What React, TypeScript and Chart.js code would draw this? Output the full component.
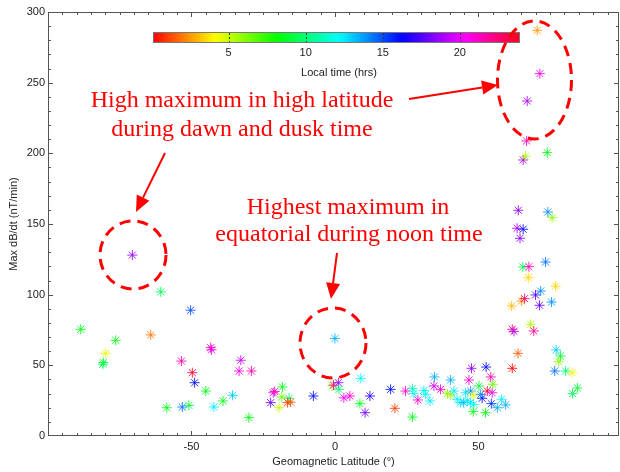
import React, { useEffect, useRef } from "react";
import { Chart, registerables } from "chart.js";

Chart.register(...registerables);

// Geomagnetic latitude (deg) of each station
const latitudes = [
  -88.6, -80.7, -80.9, -79.9, -76.4, -70.6, -64.2, -60.7, -58.6, -53.5,
  -53.2, -50.9, -50.3, -49.7, -48.9, -45.0, -43.3, -43.0, -42.2, -39.0,
  -35.7, -33.4, -32.8, -30.0, -29.1, -22.4, -21.5, -21.0, -18.3, -18.5,
  -19.5, -16.0, -16.5, -15.5, -7.5,
  0.0, -1.0, -0.5, 1.2, 1.4, 3.1, 5.2, 9.0, 8.7, 10.5,
  12.2, 19.4, 20.9, 24.6, 27.0, 27.5, 27.0, 28.9, 31.0, 31.6,
  33.1, 34.7, 34.5, 36.8, 39.2, 40.3, 40.3, 41.5, 42.6, 43.7,
  44.9, 45.5, 46.1, 46.7, 47.3, 47.6, 48.2, 48.4, 47.2, 48.2,
  50.2, 51.3, 50.8, 52.5, 52.7, 53.1, 54.3, 54.8, 55.0, 54.5,
  56.6, 58.1, 59.5,
  61.6, 61.8, 62.4, 61.8, 63.8, 65.0, 66.1, 68.2, 69.3, 69.9,
  71.3, 71.7, 75.5, 76.9, 67.4, 65.5, 67.6, 73.4, 64.5, 63.5,
  65.6, 63.9, 74.2, 75.7, 65.6, 66.4, 74.0, 66.8, 67.0, 71.4,
  70.5, 77.1, 78.6, 78.0, 76.6, 80.4, 82.7, 84.5, 82.8,
];

// Maximum dB/dt (nT/min)
const maxDbDt = [
  75.5, 52.0, 50.8, 58.5, 67.7, 128, 71.5, 102, 20, 53,
  20.5, 21.7, 89, 44.8, 37.7, 31.8, 62.5, 61.0, 20.5, 24.8,
  28.8, 46, 53.6, 13, 46, 23.6, 30.6, 31.5, 34.7, 27.6,
  20, 26.7, 23.6, 24.0, 28.3,
  69, 35.5, 36.0, 37.7, 33, 27, 28.3, 40.8, 22.9, 16.5,
  28.3, 33, 19.6, 31.8, 33.5, 30, 13.4, 25.5, 32.3, 29.5,
  24.8, 41.8, 35.4, 33, 30, 29, 39.6, 31.8, 26, 23.6,
  23.6, 30.6, 24.8, 39.6, 31.8, 47.9, 28.8, 22.4, 23.6, 17.2,
  35.4, 26.7, 29.5, 16.5, 48.8, 31.8, 41.8, 30.6, 36.6, 22.9,
  20, 26, 22,
  92, 75.5, 74, 47.9, 58.5, 95.5, 97.2, 79, 74.3, 99.8,
  92.5, 102.6, 94.8, 106, 112, 119.6, 119.8, 123.1, 139.9, 147,
  146.3, 159.7, 158.5, 154.5, 195.3, 198, 200.5, 208.8, 237, 256.4,
  287, 60.9, 56.6, 52.6, 46, 46, 44.8, 34, 30,
];

// Local time (hrs) of each maximum
const localTimes = [
  8.5, 9, 9.5, 4.5, 8.5, 18.5, 2, 9.5, 8.5, 21.5,
  14.5, 9, 15, 23.5, 16, 8.5, 21.5, 20, 12.5, 8.5,
  13, 20.5, 19.5, 8.5, 21.5, 18, 20, 21.5, 8.5, 6.5,
  5, 10, 1, 1.5, 16,
  13.5, 6, 22, 18.5, 10, 20, 21, 12, 8.5, 18,
  17, 16, 1, 21, 11, 12, 8.5, 21, 12.5, 12,
  12.5, 13.5, 19.5, 21, 6, 5.5, 13.5, 12.5, 12.5, 12,
  13.5, 12.5, 12.5, 21, 14, 18.5, 4.5, 12, 12.5, 8.5,
  9, 16.5, 14, 8.5, 16, 23.5, 21.5, 20, 6.5, 15.5,
  13.5, 12.5, 13.5,
  3, 22.5, 19, 0.3, 1.5, 2.5, 22.5, 5.5, 22, 17.5,
  18, 14, 14, 3.5, 3.5, 9.5, 21.5, 14.5, 18.5, 19,
  16, 18.5, 14, 6, 19, 5.5, 8.5, 21.5, 19, 20.5,
  2.5, 13, 9, 6, 14.5, 10, 4.5, 9, 9.5,
];

const xTickLabels = [-50, 0, 50];
const yTickLabels = [0, 50, 100, 150, 200, 250, 300];
const colorbarTicks = [5, 10, 15, 20];
const CB_MIN = 0.1;
const CB_MAX = 23.9;

const annotationTexts = [
  ["High maximum in high latitude", "during dawn and dusk time"],
  ["Highest maximum in", "equatorial during noon time"],
];

function timeColor(t: number, alpha = 1): string {
  const f = Math.min(1, Math.max(0, (t - CB_MIN) / (CB_MAX - CB_MIN)));
  const h = f * 354;
  return `hsla(${h.toFixed(1)},100%,50%,${alpha})`;
}

const SANS = '"Liberation Sans", Arial, sans-serif';
const SERIF = '"Liberation Serif", "Times New Roman", serif';

const decorPlugin = {
  id: "decor",
  beforeDatasetsDraw(chart: any) {
    const { ctx, chartArea, scales } = chart;
    const { left, right, top, bottom } = chartArea;
    const xs = scales.x;
    const ys = scales.y;
    ctx.save();
    ctx.strokeStyle = "#555";
    ctx.lineWidth = 1;
    ctx.strokeRect(left + 0.5, top + 0.5, right - left - 1, bottom - top - 1);
    ctx.beginPath();
    for (let v = -95; v <= 95; v += 5) {
      const px = Math.round(xs.getPixelForValue(v)) + 0.5;
      const len = v % 50 === 0 ? 5 : 3;
      ctx.moveTo(px, bottom);
      ctx.lineTo(px, bottom - len);
      ctx.moveTo(px, top);
      ctx.lineTo(px, top + len);
    }
    for (let v = 10; v < 300; v += 10) {
      const py = Math.round(ys.getPixelForValue(v)) + 0.5;
      const len = v % 50 === 0 ? 5 : 3;
      ctx.moveTo(left, py);
      ctx.lineTo(left + len, py);
      ctx.moveTo(right, py);
      ctx.lineTo(right - len, py);
    }
    ctx.stroke();
    ctx.restore();
  },
  afterDraw(chart: any) {
    const { ctx } = chart;
    ctx.save();
    // ---- colour bar ----
    const cbL = 153, cbR = 520, cbT = 32, cbB = 43;
    const grad = ctx.createLinearGradient(cbL, 0, cbR, 0);
    for (let i = 0; i <= 48; i++) {
      const t = CB_MIN + (i / 48) * (CB_MAX - CB_MIN);
      grad.addColorStop(i / 48, timeColor(t));
    }
    ctx.fillStyle = grad;
    ctx.fillRect(cbL, cbT, cbR - cbL, cbB - cbT);
    ctx.strokeStyle = "#777";
    ctx.lineWidth = 1;
    ctx.strokeRect(cbL + 0.5, cbT + 0.5, cbR - cbL - 1, cbB - cbT - 1);
    const cbX = (t: number) => cbL + ((t - CB_MIN) / (CB_MAX - CB_MIN)) * (cbR - cbL);
    ctx.strokeStyle = "#333";
    ctx.setLineDash([2, 2]);
    ctx.beginPath();
    colorbarTicks.forEach((t) => {
      const px = Math.round(cbX(t)) + 0.5;
      ctx.moveTo(px, cbT + 1);
      ctx.lineTo(px, cbB - 1);
    });
    ctx.stroke();
    ctx.setLineDash([]);
    ctx.fillStyle = "#222";
    ctx.font = `11px ${SANS}`;
    ctx.textAlign = "center";
    ctx.textBaseline = "middle";
    colorbarTicks.forEach((t) => ctx.fillText(String(t), cbX(t), 53));
    ctx.fillText("Local time (hrs)", 339, 73);

    // ---- annotations ----
    const red = "#ff0000";
    ctx.strokeStyle = red;
    ctx.fillStyle = red;
    ctx.font = `24px ${SERIF}`;
    ctx.fillText(annotationTexts[0][0], 242, 101);
    ctx.fillText(annotationTexts[0][1], 242, 130);
    ctx.fillText(annotationTexts[1][0], 348, 208);
    ctx.fillText(annotationTexts[1][1], 349, 235);

    ctx.lineWidth = 3;
    ctx.setLineDash([11, 7]);
    const ell = (cx: number, cy: number, rx: number, ry: number) => {
      ctx.beginPath();
      ctx.ellipse(cx, cy, rx, ry, 0, 0, Math.PI * 2);
      ctx.stroke();
    };
    ell(133, 255, 33, 34);
    ell(333, 343, 33, 35);
    ell(534.5, 80, 37, 59);
    ctx.setLineDash([]);

    const arrow = (x0: number, y0: number, x1: number, y1: number) => {
      const ang = Math.atan2(y1 - y0, x1 - x0);
      const hl = 16, hw = 7;
      const bx = x1 - hl * Math.cos(ang);
      const by = y1 - hl * Math.sin(ang);
      ctx.lineWidth = 2;
      ctx.beginPath();
      ctx.moveTo(x0, y0);
      ctx.lineTo(bx, by);
      ctx.stroke();
      ctx.beginPath();
      ctx.moveTo(x1, y1);
      ctx.lineTo(bx + hw * Math.sin(ang), by - hw * Math.cos(ang));
      ctx.lineTo(bx - hw * Math.sin(ang), by + hw * Math.cos(ang));
      ctx.closePath();
      ctx.fill();
    };
    arrow(409, 99, 498, 85);
    arrow(165, 153, 136, 212);
    arrow(337, 253, 331, 299);
    ctx.restore();
  },
};

export default function App() {
  const ref = useRef<HTMLCanvasElement | null>(null);
  useEffect(() => {
    if (!ref.current) return;
    const points = latitudes.map((x, i) => ({ x, y: maxDbDt[i] }));
    const colors = localTimes.map((t) => timeColor(t, 0.85));
    const chart = new Chart(ref.current, {
      type: "scatter",
      data: {
        datasets: [
          {
            data: points,
            pointStyle: "star",
            pointRadius: 5,
            borderWidth: 1,
            borderColor: colors,
            backgroundColor: colors,
          } as any,
        ],
      },
      options: {
        responsive: false,
        animation: false,
        devicePixelRatio: 1,
        events: [],
        layout: { autoPadding: false, padding: { left: 0, top: 12, right: 1, bottom: 0 } },
        plugins: { legend: { display: false }, tooltip: { enabled: false } },
        scales: {
          x: {
            type: "linear",
            min: -100,
            max: 99,
            grid: { display: false, drawTicks: false },
            border: { display: false },
            afterBuildTicks: (s: any) => {
              s.ticks = xTickLabels.map((v) => ({ value: v }));
            },
            ticks: {
              autoSkip: false,
              maxRotation: 0,
              padding: 4,
              color: "#222",
              font: { family: SANS, size: 11 },
            },
            title: {
              display: true,
              text: "Geomagnetic Latitude (°)",
              color: "#222",
              font: { family: SANS, size: 11 },
              padding: { top: 0, bottom: 3.5 },
            },
            afterFit: (s: any) => {
              s.height = 36;
              s.paddingLeft = 0;
              s.paddingRight = 0;
            },
          },
          y: {
            type: "linear",
            min: 0,
            max: 300,
            grid: { display: false, drawTicks: false },
            border: { display: false },
            afterBuildTicks: (s: any) => {
              s.ticks = yTickLabels.map((v) => ({ value: v }));
            },
            ticks: {
              autoSkip: false,
              padding: 3,
              color: "#222",
              font: { family: SANS, size: 11 },
            },
            title: {
              display: true,
              text: "Max dB/dt (nT/min)",
              color: "#222",
              font: { family: SANS, size: 11 },
              padding: { top: 7.5, bottom: 0 },
            },
            afterFit: (s: any) => {
              s.width = 48;
              s.paddingTop = 0;
              s.paddingBottom = 0;
            },
          },
        },
      },
      plugins: [decorPlugin],
    });
    return () => chart.destroy();
  }, []);
  return (
    <div style={{ position: "absolute", left: 0, top: 0, width: 620, height: 472, background: "#fff" }}>
      <canvas ref={ref} width={620} height={472} style={{ display: "block" }} />
    </div>
  );
}
